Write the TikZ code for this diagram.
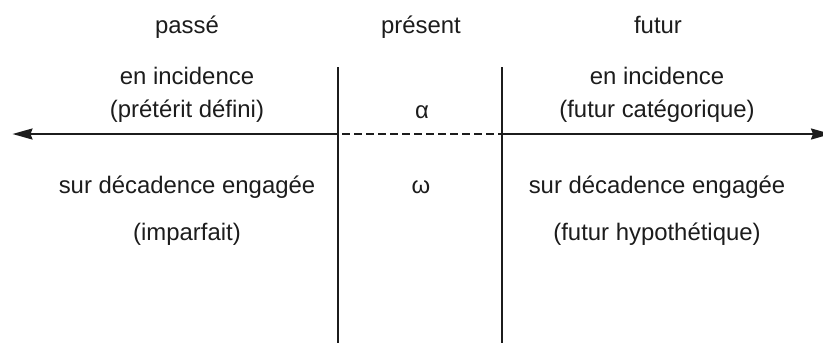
\documentclass[tikz,border=0pt]{standalone}
\usepackage{fontspec}
\setmainfont{Liberation Sans}
\usetikzlibrary{arrows.meta}
\definecolor{ink}{RGB}{28,28,28}
\begin{document}
\begin{tikzpicture}[x=1bp,y=-1bp,
  lbl/.style={anchor=base,inner sep=0pt,text=ink,font=\fontsize{23.9bp}{28bp}\selectfont},
  rule/.style={draw=ink,line width=2bp},
  axisarrow/.style={rule,-{Stealth[length=20bp,width=11bp,inset=2bp]}}]
\useasboundingbox (0,0) rectangle (823,342);

% time axis and the two borders of the present
\coordinate (tl) at (338,67);
\coordinate (bl) at (338,345);
\coordinate (tr) at (502,67);
\coordinate (br) at (502,345);
\coordinate (axl) at (338,134);
\coordinate (axr) at (502,134);
\coordinate (tipl) at (12.5,134);
\coordinate (tipr) at (831,134);

\draw[rule] (tl) -- (bl);
\draw[rule] (tr) -- (br);
\draw[axisarrow] (axl) -- (tipl);
\draw[axisarrow] (axr) -- (tipr);
\draw[rule,dash pattern=on 8bp off 4bp,dash phase=8bp] (axl) -- (axr);

% column headings
\node[lbl] (passe)   at (187,33) {passé};
\node[lbl] (present) at (421,33) {présent};
\node[lbl] (futur)   at (658,33) {futur};

% above the axis
\node[lbl] (incP)  at (187,84)  {en incidence};
\node[lbl] (pret)  at (187,117) {(prétérit défini)};
\node[lbl] (alpha) at (422,118) {α};
\node[lbl] (incF)  at (657,84)  {en incidence};
\node[lbl] (cat)   at (657,117) {(futur catégorique)};

% below the axis
\node[lbl] (decP)  at (187,193) {sur décadence engagée};
\node[lbl] (imp)   at (187,240) {(imparfait)};
\node[lbl] (omega) at (421,193) {ω};
\node[lbl] (decF)  at (657,193) {sur décadence engagée};
\node[lbl] (hyp)   at (657,240) {(futur hypothétique)};
\end{tikzpicture}
\end{document}
